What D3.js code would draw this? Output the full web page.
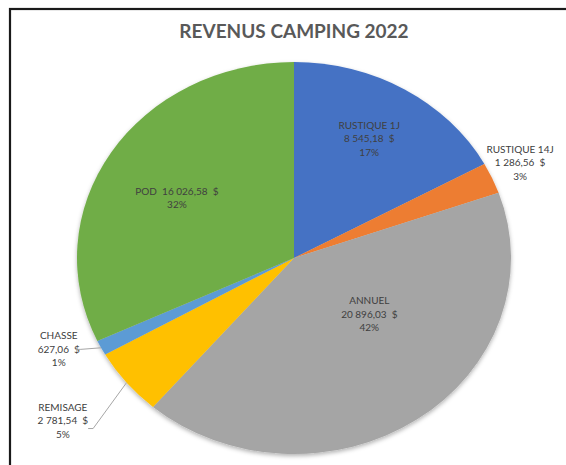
<!DOCTYPE html>
<html>
<head>
<meta charset="utf-8">
<script src="https://cdn.jsdelivr.net/npm/d3@7"></script>
<style>
	html, body { margin: 0; padding: 0; background: #fff; }
	svg { display: block; }
</style>
</head>
<body>
<svg id="chart" width="566" height="465"></svg>
<script>
// slices, clockwise from 12 o'clock
var categories = [ 'RUSTIQUE 1J', 'RUSTIQUE 14J', 'ANNUEL', 'REMISAGE', 'CHASSE', 'POD' ];
var amounts = [ 8545.18, 1286.56, 20896.03, 2781.54, 627.06, 16026.58 ];
var amountLabels = [ '8 545,18  $', '1 286,56  $', '20 896,03  $', '2 781,54  $', '627,06  $', '16 026,58  $' ];
var percentLabels = [ '17%', '3%', '42%', '5%', '1%', '32%' ];
var colors = [ '#4472C4', '#ED7D31', '#A5A5A5', '#FFC000', '#5B9BD5', '#70AD47' ];

// label placement: radius factor, angle shift (deg), outside?
var labelLayout = [
	{ k: 0.70, shift: -1, outside: false },
	{ k: 1.15, shift: -1, outside: true },
	{ k: 0.45, shift: -16, outside: false },
	{ k: 1.35, shift: 1.6, outside: true },
	{ k: 1.18, shift: 4, outside: true },
	{ k: 0.62, shift: -3, outside: false }
];

var svg = d3.select( '#chart' );
var cx = 294, cy = 258;
var ry = 196, rx = 217;
var sx = rx / ry;
var font = 'Lato, "Open Sans", sans-serif';

// frame
svg.append( 'rect' )
	.attr( 'x', 10 )
	.attr( 'y', 9 )
	.attr( 'width', 600 )
	.attr( 'height', 500 )
	.attr( 'fill', '#fff' )
	.attr( 'stroke', '#1a1a1a' )
	.attr( 'stroke-width', 2.2 );

svg.append( 'text' )
	.attr( 'x', cx )
	.attr( 'y', 38 )
	.attr( 'text-anchor', 'middle' )
	.attr( 'font-family', font )
	.attr( 'font-weight', 'bold' )
	.attr( 'font-size', 19 )
	.attr( 'fill', '#595959' )
	.text( 'REVENUS CAMPING 2022' );

var defs = svg.append( 'defs' );
var shadow = defs.append( 'filter' ).attr( 'id', 'shadow' )
	.attr( 'x', '-10%' ).attr( 'y', '-10%' ).attr( 'width', '120%' ).attr( 'height', '120%' );
shadow.append( 'feDropShadow' )
	.attr( 'dx', 0 ).attr( 'dy', 2 )
	.attr( 'stdDeviation', 2 )
	.attr( 'flood-color', '#000' )
	.attr( 'flood-opacity', 0.3 );

var data = categories.map( function( c, i ) {
	return { name: c, value: amounts[ i ], amount: amountLabels[ i ], pct: percentLabels[ i ], color: colors[ i ], layout: labelLayout[ i ] };
} );

var pie = d3.pie()
	.sort( null )
	.value( function( d ) {
		return d.value;
	} );
var arcs = pie( data );

var arc = d3.arc().innerRadius( 0 ).outerRadius( ry );

svg.append( 'g' )
	.attr( 'transform', 'translate(' + cx + ',' + cy + ') scale(' + sx + ',1)' )
	.attr( 'filter', 'url(#shadow)' )
	.selectAll( 'path' )
	.data( arcs )
	.enter()
	.append( 'path' )
	.attr( 'fill', function( d ) {
		return d.data.color;
	} )
	.attr( 'd', arc );

// point on the (stretched) pie at angle a and radius r
function polar( a, r ) {
	return [ cx + sx * r * Math.sin( a ), cy - r * Math.cos( a ) ];
}

var lineH = 13.5;
var labels = svg.append( 'g' );

arcs.forEach( function( d ) {
	var mid = ( d.startAngle + d.endAngle ) / 2;
	var L = d.data.layout;
	var p = polar( mid + L.shift * Math.PI / 180, ry * L.k );
	var lines = d.data.name === 'POD' ?
		[ d.data.name + '  ' + d.data.amount, d.data.pct ] :
		[ d.data.name, d.data.amount, d.data.pct ];
	var top = p[ 1 ] - ( lines.length - 1 ) * lineH / 2;

	var t = labels.append( 'text' )
		.attr( 'text-anchor', 'middle' )
		.attr( 'font-family', font )
		.attr( 'font-size', 10 )
		.attr( 'fill', '#404040' )
		.attr( 'xml:space', 'preserve' )
		.style( 'white-space', 'pre' );
	lines.forEach( function( s, j ) {
		t.append( 'tspan' )
			.attr( 'x', p[ 0 ] )
			.attr( 'y', top + j * lineH )
			.attr( 'dy', '0.35em' )
			.text( s );
	} );

	// leader lines for the two small left slices
	if ( L.outside && mid > Math.PI ) {
		var w = t.selectAll( 'tspan' ).nodes()[ 1 ].getComputedTextLength();
		var right = p[ 0 ] + w / 2;
		var edge = polar( mid, ry );
		var yl = d.data.name === 'REMISAGE' ? p[ 1 ] + 8 : p[ 1 ];
		var x0 = d.data.name === 'REMISAGE' ? right : right - 4;
		svg.append( 'path' )
			.attr( 'fill', 'none' )
			.attr( 'stroke', '#a6a6a6' )
			.attr( 'stroke-width', 1 )
			.attr( 'd', d3.line()( [ [ x0, yl ], [ x0 + 5, yl ], edge ] ) );
	}
} );
</script>
</body>
</html>
